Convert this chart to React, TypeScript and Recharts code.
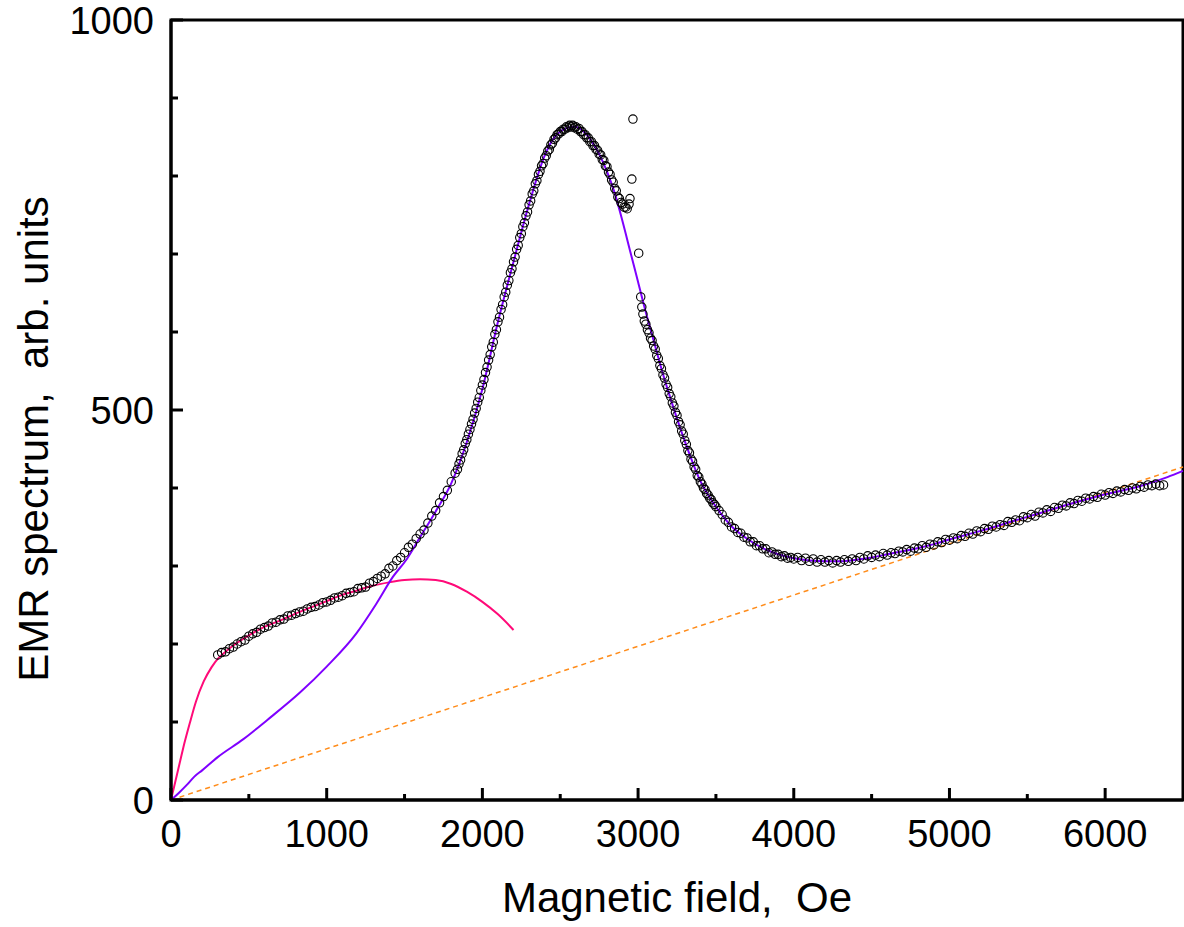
import { ComposedChart, Line, ReferenceArea, Scatter, XAxis, YAxis } from 'recharts';

const FONT = '"Liberation Sans", Arial, Helvetica, sans-serif';

const lowFieldStart = 300;
const lowFieldStep = 25;
const lowFieldSignal = [
  186, 189, 190, 194, 196, 200, 203, 205, 210, 213, 215, 219, 221, 223, 227, 228, 231, 232, 236, 237,
  239, 241, 242, 245, 247, 248, 250, 253, 254, 256, 259, 260, 262, 265, 266, 267, 271, 272, 273, 278,
  280, 284, 287, 290, 297, 300, 307, 311, 317, 324, 328, 335, 341, 346, 355, 364, 371, 381, 389, 397,
  408, 419,
];

const riseStart = 1840;
const riseStep = 10;
const riseSignal = [
  424, 431, 436, 444, 449, 457, 462, 469, 475, 482, 488, 496, 502, 510, 516, 525, 532, 539, 548, 555,
  564, 571, 581, 587, 597, 603, 613, 619, 629, 635, 645, 651, 660, 666, 676, 681, 690, 696, 706, 711,
  721, 726, 735, 740, 749, 754, 763, 768, 777, 781, 790, 794, 802, 806, 813, 816, 823, 826, 832, 834,
  840, 842, 847,
];

const peakStart = 2470;
const peakStep = 10;
const peakSignal = [
  849, 853, 854, 857, 857, 860, 860, 863, 862, 865, 863, 865, 862, 863, 860, 861, 857, 857, 853, 853,
  849, 849, 844, 844, 839, 839, 834, 833, 828, 827, 821, 820, 813, 812, 805, 802, 795, 792, 784, 781,
  773, 771, 766, 764, 760, 760, 758,
];

// scattered readings around 2950-3030 Oe
const glitchPoints = [
  [2942, 764], [2948, 771], [2960, 796], [2967, 873], [3004, 701], [3017, 645], [3024, 632], [3031, 623],
];

const fallStart = 3040;
const fallStep = 10;
const fallSignal = [
  614, 610, 603, 599, 592, 589, 582, 578, 570, 566, 557, 553, 545, 541, 533, 529, 521, 517, 509, 505,
  497, 493, 485, 481, 473, 469, 461, 456, 448, 445, 437, 434, 427, 424, 416, 414, 408, 405, 400, 398,
  393, 391, 387, 385, 381, 379, 376,
];

const shoulderStart = 3520;
const shoulderStep = 20;
const shoulderSignal = [
  371, 366, 359, 356, 350, 348, 343, 342, 337, 336, 331, 331, 326, 326, 322, 322, 317, 318, 315, 315,
  312, 313, 310, 311, 309,
];

const tailStart = 4025;
const tailStep = 25;
const tailSignal = [
  311, 307, 310, 306, 309, 305, 308, 305, 307, 304, 307, 305, 308, 306, 309, 307, 311, 309, 313, 311,
  314, 312, 316, 314, 317, 316, 319, 318, 321, 319, 323, 322, 326, 324, 328, 327, 331, 330, 334, 333,
  336, 335, 339, 338, 342, 341, 345, 344, 348, 347, 351, 350, 353, 352, 357, 356, 359, 358, 363, 362,
  366, 364, 369, 368, 372, 370, 375, 374, 378, 377, 381, 380, 384, 383, 387, 386, 389, 388, 392, 391,
  394, 393, 396, 395, 398, 397, 400, 399, 402, 401, 404, 403, 405, 403, 404,
];

// fitted curves [field, signal]
const totalFit = [
  [0, 0], [50, 9], [100, 19], [150, 30], [200, 38], [300, 55], [465, 78], [615, 102], [830, 138],
  [1000, 171], [1192, 214], [1320, 252], [1425, 286], [1515, 309], [1600, 337], [1700, 370],
  [1800, 406], [1900, 459], [2000, 527], [2100, 613], [2200, 690], [2300, 764], [2400, 826],
  [2450, 846], [2500, 857], [2550, 862], [2590, 863], [2650, 857], [2700, 845], [2750, 828],
  [2800, 806], [2850, 778], [2900, 742], [2950, 703], [3000, 664], [3050, 625], [3100, 589],
  [3150, 553], [3200, 520], [3250, 489], [3300, 460], [3350, 433], [3400, 409], [3450, 391],
  [3500, 376], [3600, 351], [3700, 335], [3800, 323], [3900, 315], [4000, 310], [4100, 307],
  [4200, 306], [4300, 306], [4400, 308], [4500, 311], [4600, 315], [4700, 319], [4800, 323],
  [4900, 328], [5000, 334], [5200, 345], [5400, 357], [5600, 369], [5800, 381], [6000, 392],
  [6200, 401], [6400, 414], [6500, 422],
];

const lowFieldFit = [
  [0, 0], [20, 17], [40, 34], [60, 51], [80, 68], [120, 98], [160, 126], [210, 152], [260, 170],
  [300, 181], [350, 190], [400, 198], [500, 211], [600, 222], [700, 230], [800, 239], [900, 247],
  [1000, 255], [1100, 263], [1200, 269], [1300, 275], [1400, 279], [1500, 282], [1600, 283],
  [1700, 282], [1800, 277], [1900, 267], [2000, 254], [2100, 238], [2200, 218],
];

const background = [[0, 0], [6500, 427]];

const xTicks = [0, 500, 1000, 1500, 2000, 2500, 3000, 3500, 4000, 4500, 5000, 5500, 6000];
const xTickLabels = [0, 1000, 2000, 3000, 4000, 5000, 6000];
const yTicks = [0, 100, 200, 300, 400, 500, 600, 700, 800, 900, 1000];
const yTickLabels = [0, 500, 1000];

const sweeps = [
  { start: lowFieldStart, step: lowFieldStep, values: lowFieldSignal },
  { start: riseStart, step: riseStep, values: riseSignal },
  { start: peakStart, step: peakStep, values: peakSignal },
  { start: fallStart, step: fallStep, values: fallSignal },
  { start: shoulderStart, step: shoulderStep, values: shoulderSignal },
  { start: tailStart, step: tailStep, values: tailSignal },
];

const toPoints = (rows: number[][]) => rows.map(([x, y]) => ({ x, y }));

const measured = [
  ...sweeps.flatMap((s) => s.values.map((y, i) => ({ x: s.start + i * s.step, y }))),
  ...toPoints(glitchPoints),
];

function XTick({ x, y, payload }: any) {
  const major = xTickLabels.includes(payload.value);
  return (
    <g>
      <line x1={x} y1={y} x2={x} y2={y - (major ? 12 : 6)} stroke="#000" strokeWidth={3} />
      {major && (
        <text x={x} y={y + 47} textAnchor="middle" fontSize={38} fontFamily={FONT} fill="#000">
          {payload.value}
        </text>
      )}
    </g>
  );
}

function YTick({ x, y, payload }: any) {
  const major = yTickLabels.includes(payload.value);
  return (
    <g>
      <line x1={x} y1={y} x2={x + (major ? 12 : 7)} y2={y} stroke="#000" strokeWidth={3} />
      {major && (
        <text x={x - 17} y={y + 14} textAnchor="end" fontSize={38} fontFamily={FONT} fill="#000">
          {payload.value}
        </text>
      )}
    </g>
  );
}

function XTitle() {
  return (
    <text x={677} y={912} textAnchor="middle" fontSize={42} fontFamily={FONT} fill="#000" style={{ whiteSpace: 'pre' }}>
      Magnetic field,  Oe
    </text>
  );
}

function YTitle() {
  return (
    <text
      x={33}
      y={439}
      transform="rotate(-90 33 439)"
      textAnchor="middle"
      dominantBaseline="central"
      fontSize={42}
      fontFamily={FONT}
      fill="#000"
      style={{ whiteSpace: 'pre' }}
    >
      EMR spectrum,  arb. units
    </text>
  );
}

const openCircle = (props: any) => (
  <circle cx={props.cx} cy={props.cy} r={4.2} fill="none" stroke="#000" strokeWidth={1.1} />
);

export default function App() {
  return (
    <div style={{ position: 'absolute', left: 0, top: 0, background: '#fff' }}>
      <style>{'body{margin:0;background:#fff}'}</style>
      <ComposedChart width={1184} height={927} margin={{ top: 20, right: 1, bottom: 0, left: 0 }}>
        <XAxis
          dataKey="x"
          type="number"
          domain={[0, 6500]}
          ticks={xTicks}
          interval={0}
          height={127}
          tickSize={0}
          tickMargin={0}
          tickLine={false}
          axisLine={{ stroke: '#000', strokeWidth: 3 }}
          tick={<XTick />}
          label={<XTitle />}
        />
        <YAxis
          dataKey="y"
          type="number"
          domain={[0, 1000]}
          ticks={yTicks}
          interval={0}
          width={171}
          tickSize={0}
          tickMargin={0}
          tickLine={false}
          axisLine={{ stroke: '#000', strokeWidth: 3 }}
          tick={<YTick />}
          label={<YTitle />}
        />
        <ReferenceArea
          x1={0}
          x2={6500}
          y1={0}
          y2={1000}
          fill="none"
          fillOpacity={0}
          stroke="#000"
          strokeWidth={3}
          ifOverflow="visible"
        />
        <Line
          data={toPoints(background)}
          dataKey="y"
          type="linear"
          stroke="#FF8C1A"
          strokeWidth={1.5}
          strokeDasharray="5 4"
          dot={false}
          activeDot={false}
          isAnimationActive={false}
        />
        <Scatter data={measured} dataKey="y" shape={openCircle} isAnimationActive={false} />
        <Line
          data={toPoints(lowFieldFit)}
          dataKey="y"
          type="monotone"
          stroke="#FF0A78"
          strokeWidth={2}
          dot={false}
          activeDot={false}
          isAnimationActive={false}
        />
        <Line
          data={toPoints(totalFit)}
          dataKey="y"
          type="monotone"
          stroke="#7F00FF"
          strokeWidth={2}
          dot={false}
          activeDot={false}
          isAnimationActive={false}
        />
      </ComposedChart>
    </div>
  );
}
